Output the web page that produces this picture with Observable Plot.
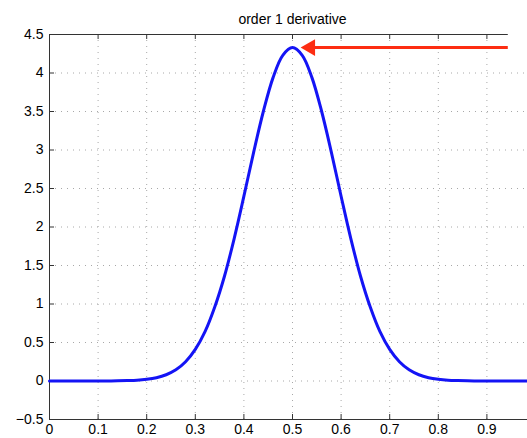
<!DOCTYPE html>
<html>
<head>
<meta charset="utf-8">
<script src="https://cdn.jsdelivr.net/npm/d3@7"></script>
<script src="https://cdn.jsdelivr.net/npm/@observablehq/plot@0.6"></script>
<style>
  html, body { margin: 0; padding: 0; background: white; overflow: hidden; }
  svg { max-width: none !important; }
</style>
</head>
<body>
<div id="chart"></div>
<script>
const titleText = "order 1 derivative";
const xValues = [0,0.02,0.04,0.06,0.08,0.10,0.12,0.14,0.16,0.18,0.20,0.22,0.24,0.26,0.28,0.30,0.32,0.34,0.36,0.38,0.40,0.42,0.44,0.46,0.48,0.50,0.52,0.54,0.56,0.58,0.60,0.62,0.64,0.66,0.68,0.70,0.72,0.74,0.76,0.78,0.80,0.82,0.84,0.86,0.88,0.90,0.92,0.94,0.96,0.98,1.00];
const yValues = [0,0,0,0,0,0,0.001,0.002,0.005,0.010,0.022,0.043,0.081,0.145,0.25,0.41,0.64,0.96,1.36,1.85,2.40,2.97,3.50,3.94,4.23,4.33,4.23,3.94,3.50,2.97,2.40,1.85,1.36,0.96,0.64,0.41,0.25,0.145,0.081,0.043,0.022,0.010,0.005,0.002,0.001,0,0,0,0,0,0];
const xTicks = [0,0.1,0.2,0.3,0.4,0.5,0.6,0.7,0.8,0.9];
const yTicks = [-0.5,0,0.5,1,1.5,2,2.5,3,3.5,4,4.5];
const xDomain = [0, 1];
const yDomain = [-0.5, 4.5];
const arrowY = [4.33];
const arrowTip = [0.518];
const arrowBase = 0.545;
const arrowTail = 0.944;
const topBorderEnd = 0.944;

const data = xValues.map((x, i) => ({x, y: yValues[i]}));
const fmt = d => String(d).replace("-", "\u2212");
const axisColor = "#333";
const gridColor = "#a8a8a8";

const plot = Plot.plot({
  width: 535,
  height: 438,
  marginLeft: 49,
  marginRight: 0,
  marginTop: 34,
  marginBottom: 19,
  style: {fontFamily: "'Liberation Sans', Arial, Helvetica, sans-serif", fontSize: "14px", color: "black", background: "white"},
  x: {domain: xDomain, axis: null},
  y: {domain: yDomain, axis: null},
  marks: [
    // grid
    Plot.ruleX(xTicks.slice(1), {y1: yDomain[0], y2: yDomain[1], stroke: gridColor, strokeDasharray: "1,5", strokeWidth: 1}),
    Plot.ruleY(yTicks.slice(1, -1), {stroke: gridColor, strokeDasharray: "1,5", strokeWidth: 1}),
    // frame
    Plot.ruleX([xDomain[0]], {stroke: axisColor}),
    Plot.ruleY([yDomain[0]], {stroke: axisColor}),
    Plot.ruleY([yDomain[1]], {x1: xDomain[0], x2: topBorderEnd, stroke: axisColor}),
    // inward ticks (zero-length rules grown by negative insets)
    Plot.ruleX(xTicks, {y1: yDomain[0], y2: yDomain[0], insetTop: -5, stroke: axisColor}),
    Plot.ruleX(xTicks, {y1: yDomain[1], y2: yDomain[1], insetBottom: -5, stroke: axisColor}),
    Plot.ruleY(yTicks, {x1: xDomain[0], x2: xDomain[0], insetRight: -5, stroke: axisColor}),
    // labels
    Plot.axisX(xTicks, {anchor: "bottom", tickSize: 0, tickPadding: 5, tickFormat: fmt, fill: "black", label: null, fontSize: 14}),
    Plot.axisY(yTicks, {anchor: "left", tickSize: 0, tickPadding: 6, tickFormat: fmt, fill: "black", label: null, fontSize: 14}),
    // curve
    Plot.line(data, {x: "x", y: "y", stroke: "#1414f5", strokeWidth: 3, curve: "catmull-rom"}),
    // arrow
    Plot.ruleY(arrowY, {x1: arrowBase, x2: arrowTail, stroke: "#fd2d12", strokeWidth: 3}),
    Plot.dot(arrowTip, {x: d => d, y: () => arrowY[0], symbol: "triangle", rotate: -90, r: 6.2, fill: "#fd2d12", stroke: "none", dx: 9}),
    // title
    Plot.text([titleText], {frameAnchor: "top", dy: -15, text: d => d, fill: "black", fontSize: 14, lineAnchor: "middle"})
  ]
});
document.getElementById("chart").appendChild(plot);
</script>
</body>
</html>
